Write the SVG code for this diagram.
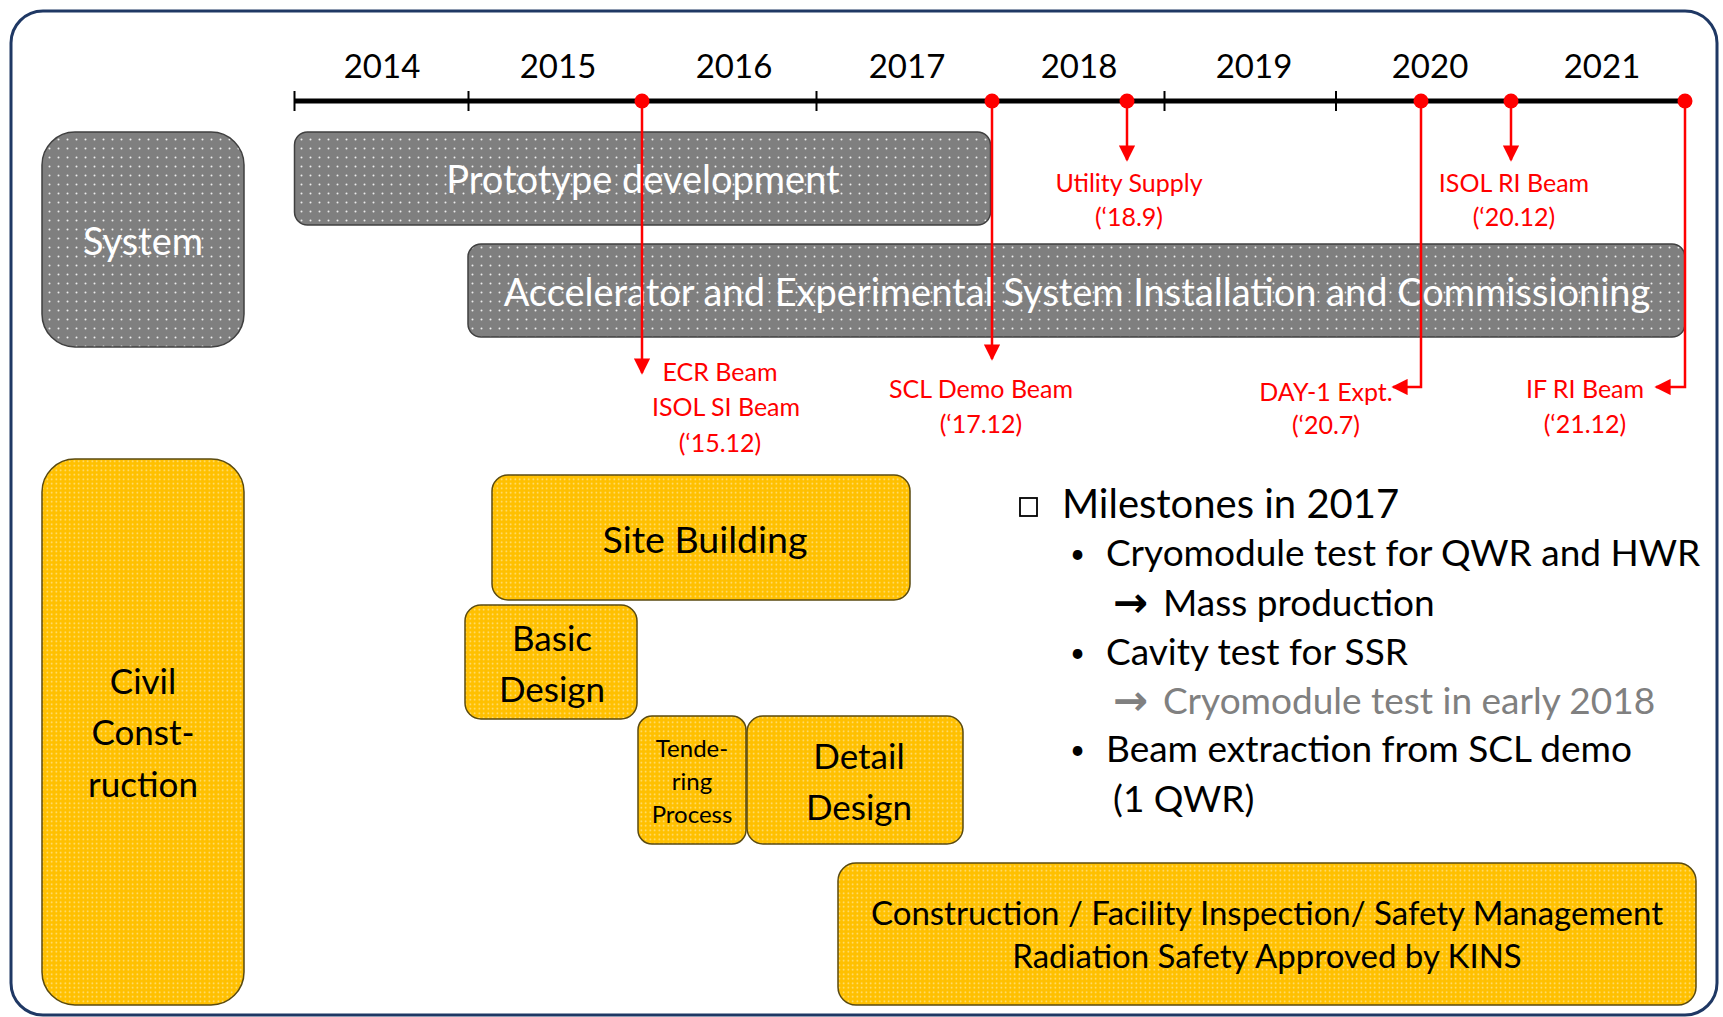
<svg xmlns="http://www.w3.org/2000/svg" width="1723" height="1017" viewBox="0 0 1723 1017">
<style>
text{font-family:Lato,"Open Sans","DejaVu Sans",sans-serif}
.yr{font-size:33px;fill:#000;text-anchor:middle}
.wt{font-size:38px;fill:#fff;text-anchor:middle}
.bk{font-size:35px;fill:#000;text-anchor:middle}
.rd{font-size:25px;fill:#ff0000;text-anchor:middle}
.gbox{fill:url(#gdots);stroke:#404040;stroke-width:1.5}
.ybox{fill:url(#ydots);stroke:#5a4a10;stroke-width:1.5}
.ms{font-size:37px;fill:#000}
.bl{font-size:26px;fill:#000}
.ar{font-family:"DejaVu Sans",sans-serif;font-weight:bold;font-size:42px}
.arr{stroke:#ff0000;stroke-width:2.5;fill:none}
</style>
<defs>
<pattern id="gdots" width="9" height="9" patternUnits="userSpaceOnUse">
<rect width="9" height="9" fill="#7f7f7f"/>
<circle cx="4.5" cy="4.5" r="1" fill="#ffffff" opacity="0.85"/>
</pattern>
<pattern id="ydots" width="4.5" height="4.5" patternUnits="userSpaceOnUse">
<rect width="4.5" height="4.5" fill="#ffc000"/>
<circle cx="2.25" cy="2.25" r="0.8" fill="#ffffff" opacity="0.6"/>
</pattern>
<marker id="ah" viewBox="0 0 10 10" refX="9" refY="5" markerWidth="6.5" markerHeight="6.5" orient="auto" markerUnits="strokeWidth">
<path d="M0,0 L10,5 L0,10 z" fill="#ff0000"/>
</marker>
</defs>
<rect x="11" y="11" width="1706" height="1004" rx="32" fill="#fff" stroke="#1f3864" stroke-width="3"/>

<g id="timeline">
<line x1="294.5" y1="101" x2="1685" y2="101" stroke="#000" stroke-width="5"/>
<g stroke="#000" stroke-width="2">
<line x1="294.5" y1="91" x2="294.5" y2="111"/>
<line x1="468.5" y1="91" x2="468.5" y2="111"/>
<line x1="816.5" y1="91" x2="816.5" y2="111"/>
<line x1="1164.5" y1="91" x2="1164.5" y2="111"/>
<line x1="1336" y1="91" x2="1336" y2="111"/>
</g>
<text class="yr" x="382" y="78">2014</text>
<text class="yr" x="558" y="78">2015</text>
<text class="yr" x="734" y="78">2016</text>
<text class="yr" x="907" y="78">2017</text>
<text class="yr" x="1079" y="78">2018</text>
<text class="yr" x="1254" y="78">2019</text>
<text class="yr" x="1430" y="78">2020</text>
<text class="yr" x="1602" y="78">2021</text>
</g>

<g id="system">
<rect class="gbox" x="42" y="132" width="202" height="215" rx="33"/>
<text class="wt" x="143" y="255">System</text>
</g>
<g id="prototype">
<rect class="gbox" x="294.5" y="132" width="696" height="93" rx="13"/>
<text class="wt" x="643" y="193">Prototype development</text>
</g>
<g id="accelerator">
<rect class="gbox" x="468" y="244" width="1217" height="93" rx="13"/>
<text class="wt" x="1077" y="306">Accelerator and Experimental System Installation and Commissioning</text>
</g>

<g id="civil">
<rect class="ybox" x="42" y="459" width="202" height="546" rx="33"/>
<text class="bk" x="143" y="694">Civil</text>
<text class="bk" x="143" y="745">Const-</text>
<text class="bk" x="143" y="797">ruction</text>
</g>
<g id="site-building">
<rect class="ybox" x="492" y="475" width="418" height="125" rx="16"/>
<text class="bk" x="705" y="553" style="font-size:37.5px">Site Building</text>
</g>
<g id="basic-design">
<rect class="ybox" x="465" y="605" width="172" height="114" rx="16"/>
<text class="bk" x="552" y="651">Basic</text>
<text class="bk" x="552" y="702">Design</text>
</g>
<g id="tendering">
<rect class="ybox" x="638" y="716" width="108" height="128" rx="14"/>
<text class="bk" x="692" y="757" style="font-size:24px">Tende-</text>
<text class="bk" x="692" y="790" style="font-size:24px">ring</text>
<text class="bk" x="692" y="823" style="font-size:24px">Process</text>
</g>
<g id="detail-design">
<rect class="ybox" x="747" y="716" width="216" height="128" rx="16"/>
<text class="bk" x="859" y="769">Detail</text>
<text class="bk" x="859" y="820">Design</text>
</g>
<g id="construction">
<rect class="ybox" x="838" y="863" width="858" height="142" rx="18"/>
<text class="bk" x="1267" y="925" style="font-size:33px">Construction / Facility Inspection/ Safety Management</text>
<text class="bk" x="1267" y="968" style="font-size:33px">Radiation Safety Approved by KINS</text>
</g>

<g id="connectors">
<line class="arr" x1="642" y1="101" x2="642" y2="373" marker-end="url(#ah)"/>
<line class="arr" x1="992" y1="101" x2="992" y2="359" marker-end="url(#ah)"/>
<line class="arr" x1="1127" y1="101" x2="1127" y2="160" marker-end="url(#ah)"/>
<polyline class="arr" points="1421,101 1421,387 1393,387" marker-end="url(#ah)"/>
<line class="arr" x1="1511" y1="101" x2="1511" y2="160" marker-end="url(#ah)"/>
<polyline class="arr" points="1685,101 1685,387 1656,387" marker-end="url(#ah)"/>
<g fill="#ff0000">
<circle cx="642" cy="101" r="7.5"/>
<circle cx="992" cy="101" r="7.5"/>
<circle cx="1127" cy="101" r="7.5"/>
<circle cx="1421" cy="101" r="7.5"/>
<circle cx="1511" cy="101" r="7.5"/>
<circle cx="1685" cy="101" r="7.5"/>
</g>
</g>

<g id="milestone-labels">
<text class="rd" x="1129" y="192">Utility Supply</text>
<text class="rd" x="1129" y="226">(‘18.9)</text>
<text class="rd" x="1514" y="192">ISOL RI Beam</text>
<text class="rd" x="1514" y="226">(‘20.12)</text>
<text class="rd" x="720" y="381">ECR Beam</text>
<text class="rd" x="726" y="416">ISOL SI Beam</text>
<text class="rd" x="720" y="452">(‘15.12)</text>
<text class="rd" x="981" y="398">SCL Demo Beam</text>
<text class="rd" x="981" y="433">(‘17.12)</text>
<text class="rd" x="1326" y="401">DAY-1 Expt.</text>
<text class="rd" x="1326" y="434">(‘20.7)</text>
<text class="rd" x="1585" y="398">IF RI Beam</text>
<text class="rd" x="1585" y="433">(‘21.12)</text>
</g>

<g id="milestones-2017">
<rect x="1020" y="498" width="17" height="18" fill="none" stroke="#000" stroke-width="1.8"/>
<text x="1062" y="518" style="font-size:40px;fill:#000">Milestones in 2017</text>
<text class="bl" x="1070" y="563">•</text>
<text class="ms" x="1106" y="566">Cryomodule test for QWR and HWR</text>
<text class="ms ar" x="1113" y="617">→</text>
<text class="ms" x="1163" y="616">Mass production</text>
<text class="bl" x="1070" y="662">•</text>
<text class="ms" x="1106" y="665">Cavity test for SSR</text>
<text class="ms ar" x="1113" y="715" style="fill:#808080">→</text>
<text class="ms" x="1163" y="714" style="fill:#808080">Cryomodule test in early 2018</text>
<text class="bl" x="1070" y="759">•</text>
<text class="ms" x="1106" y="762">Beam extraction from SCL demo</text>
<text class="ms" x="1113" y="812">(1 QWR)</text>
</g>
</svg>
